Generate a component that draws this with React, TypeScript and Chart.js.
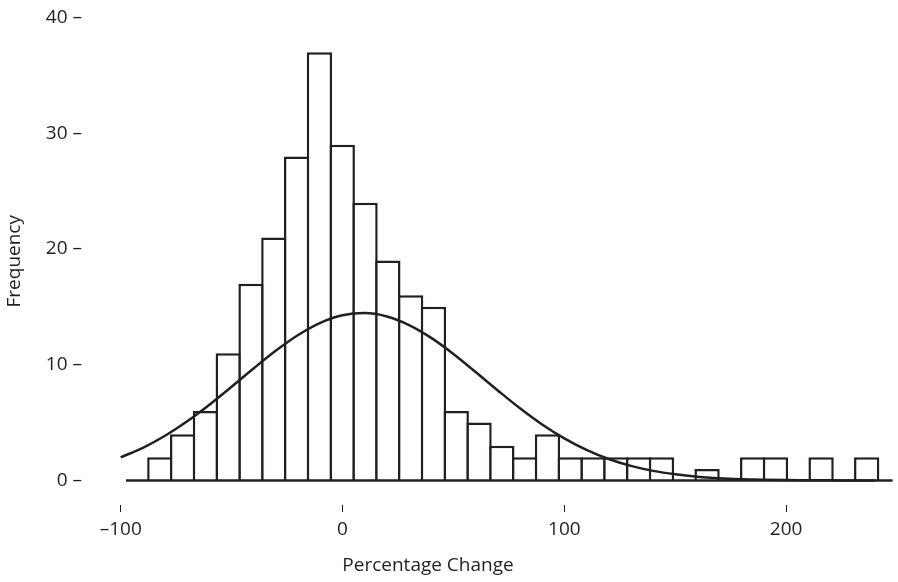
import { useEffect, useRef } from "react";
import { Chart, registerables } from "chart.js";

Chart.register(...registerables);

// Histogram bins (centre of each bin, percentage change) and their frequencies
const binCenters = [
  -82.36, -72.08, -61.8, -51.52, -41.24, -30.96, -20.68, -10.4, -0.12, 10.16,
  20.44, 30.72, 41.0, 51.28, 61.56, 71.84, 82.12, 92.4, 102.68, 112.96,
  123.24, 133.52, 143.8, 154.08, 164.36, 174.64, 184.92, 195.2, 205.48,
  215.76, 226.04, 236.32,
];
const frequencies = [
  2, 4, 6, 11, 17, 21, 28, 37, 29, 24, 19, 16, 15, 6, 5, 3, 2, 4, 2, 2, 2, 2,
  2, 0, 1, 0, 2, 2, 0, 2, 0, 2,
];

// Fitted normal curve
const curveX = [
  -100, -90, -80, -70, -60, -50, -40, -30, -20, -10, 0, 10, 20, 30, 40, 50, 60,
  70, 80, 90, 100, 110, 120, 130, 140, 150, 160, 170, 180, 190, 200, 210, 220,
  230, 240,
];
const curveY = [
  2.0, 2.82, 3.86, 5.11, 6.54, 8.09, 9.69, 11.22, 12.57, 13.62, 14.27, 14.46,
  14.17, 13.43, 12.32, 10.93, 9.37, 7.78, 6.24, 4.84, 3.64, 2.64, 1.85, 1.26,
  0.83, 0.53, 0.32, 0.19, 0.11, 0.06, 0.03, 0.02, 0.01, 0.0, 0.0,
];

const xTickValues = [-100, 0, 100, 200];
const yTickValues = [0, 10, 20, 30, 40];
const xAxisTitle = "Percentage Change";
const yAxisTitle = "Frequency";

const INK = "#231f20";
const FONT = "'Open Sans', 'Noto Sans', sans-serif";

export default function App() {
  const ref = useRef<HTMLCanvasElement>(null);

  useEffect(() => {
    document.body.style.margin = "0";
    const canvas = ref.current;
    if (!canvas) return;

    const baselinePlugin = {
      id: "baseline",
      afterDatasetsDraw(chart: any) {
        const { ctx, scales, chartArea } = chart;
        const py = scales.y.getPixelForValue(0);
        ctx.save();
        ctx.strokeStyle = INK;
        ctx.lineWidth = 2.5;
        ctx.beginPath();
        ctx.moveTo(scales.x.getPixelForValue(-97.6), py);
        ctx.lineTo(chartArea.right, py);
        ctx.stroke();
        ctx.restore();
      },
    };

    const xTitlePlugin = {
      id: "xTitle",
      afterDraw(chart: any) {
        const { ctx } = chart;
        ctx.save();
        ctx.fillStyle = INK;
        ctx.font = `19px ${FONT}`;
        ctx.textAlign = "center";
        ctx.textBaseline = "middle";
        ctx.fillText(xAxisTitle, 428, 566);
        ctx.restore();
      },
    };

    const chart = new Chart(canvas, {
      type: "bar",
      data: {
        datasets: [
          {
            type: "line",
            label: "Normal",
            data: curveX.map((x, i) => ({ x, y: curveY[i] })),
            borderColor: INK,
            borderWidth: 2.5,
            pointRadius: 0,
            fill: false,
            cubicInterpolationMode: "monotone",
            clip: false,
            order: 0,
          } as any,
          {
            type: "bar",
            label: "Frequency",
            data: binCenters.map((x, i) => ({ x, y: frequencies[i] })),
            backgroundColor: "#ffffff",
            borderColor: INK,
            borderWidth: 2.5,
            borderSkipped: "start",
            barPercentage: 1.11,
            categoryPercentage: 1,
            order: 1,
          } as any,
        ],
      },
      options: {
        responsive: false,
        animation: false,
        devicePixelRatio: 1,
        layout: { padding: { top: 17.5, right: 5.4, left: 0, bottom: 0 } },
        plugins: {
          legend: { display: false },
          tooltip: { enabled: false },
        },
        scales: {
          x: {
            type: "linear",
            min: -100,
            max: 248,
            offset: false,
            afterBuildTicks: (s: any) => {
              s.ticks = xTickValues.map((v) => ({ value: v }));
            },
            afterFit: (s: any) => {
              s.height = 77;
            },
            grid: {
              display: true,
              offset: false,
              drawOnChartArea: false,
              drawTicks: true,
              tickLength: 7,
              lineWidth: 1,
              color: INK,
            },
            border: { display: false },
            ticks: {
              padding: 6,
              color: INK,
              font: { family: FONT, size: 19 },
              callback: (v: any) =>
                Number(v) < 0 ? "\u2013" + Math.abs(Number(v)) : String(v),
            },
            title: { display: false },
          },
          y: {
            type: "linear",
            min: -2.12,
            max: 40,
            afterBuildTicks: (s: any) => {
              s.ticks = yTickValues.map((v) => ({ value: v }));
            },
            afterFit: (s: any) => {
              s.width = 120.7;
              s.paddingTop = 10;
              s.paddingBottom = 10;
            },
            grid: { display: false, drawTicks: false },
            border: { display: false },
            ticks: {
              padding: 38.7,
              color: INK,
              font: { family: FONT, size: 19 },
              callback: (v: any) => `${v} \u2013`,
            },
            title: {
              display: true,
              text: yAxisTitle,
              color: INK,
              font: { family: FONT, size: 19 },
              padding: { top: 3.6, bottom: 0 },
            },
          },
        },
      } as any,
      plugins: [baselinePlugin, xTitlePlugin],
    });

    return () => chart.destroy();
  }, []);

  return (
    <canvas
      ref={ref}
      width={898}
      height={582}
      style={{ display: "block", width: 898, height: 582 }}
    />
  );
}
